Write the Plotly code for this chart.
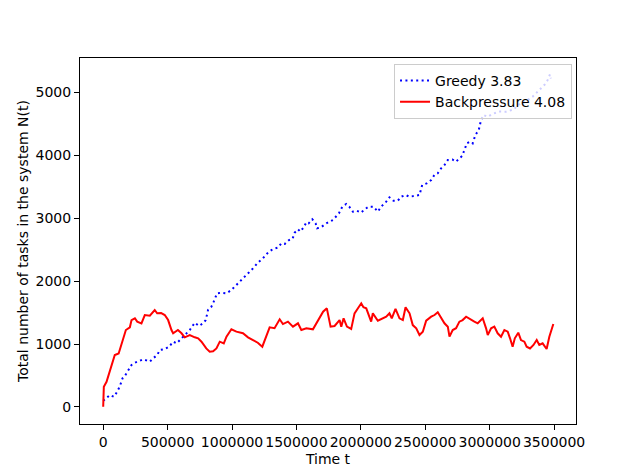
import plotly.graph_objects as go

# Backpressure (red, solid): time in millions, N(t)
bp_t = [0, 0.005, 0.026, 0.065, 0.09, 0.12, 0.143, 0.176, 0.207, 0.22, 0.246, 0.264, 0.297, 0.323,
        0.362, 0.40, 0.419, 0.45, 0.478, 0.504, 0.53, 0.543, 0.58, 0.608, 0.633, 0.672, 0.711, 0.737,
        0.763, 0.80, 0.827, 0.853, 0.879, 0.905, 0.936, 0.957, 0.995, 1.034, 1.085, 1.124, 1.163, 1.2,
        1.235, 1.26, 1.292, 1.33, 1.37, 1.395, 1.434, 1.473, 1.512, 1.538, 1.577, 1.628, 1.667, 1.707,
        1.736, 1.765, 1.796, 1.835, 1.848, 1.866, 1.892, 1.925, 1.951, 1.97, 2.003, 2.02, 2.042, 2.08,
        2.093, 2.132, 2.17, 2.197, 2.222, 2.24, 2.269, 2.3, 2.326, 2.347, 2.378, 2.403, 2.43, 2.455,
        2.481, 2.507, 2.546, 2.572, 2.597, 2.623, 2.649, 2.675, 2.688, 2.713, 2.739, 2.765, 2.79,
        2.817, 2.856, 2.881, 2.907, 2.946, 2.972, 2.985, 3.011, 3.036, 3.062, 3.088, 3.114, 3.14,
        3.158, 3.178, 3.195, 3.222, 3.243, 3.269, 3.287, 3.313, 3.34, 3.365, 3.385, 3.411, 3.442,
        3.463, 3.494]
bp_n = [5, 322, 400, 640, 825, 850, 1010, 1222, 1265, 1380, 1408, 1355, 1328, 1460,
        1450, 1540, 1487, 1490, 1460, 1380, 1222, 1170, 1222, 1170, 1106, 1143, 1106, 1090,
        1037, 930, 878, 883, 930, 1037, 1010, 1116, 1233, 1196, 1170, 1106, 1063, 1020,
        957, 1090, 1265, 1250, 1392, 1317, 1355, 1275, 1328, 1222, 1250, 1233, 1380, 1513,
        1566, 1275, 1286, 1380, 1275, 1408, 1275, 1238, 1487, 1540, 1646, 1583, 1566, 1355,
        1487, 1370, 1408, 1433, 1487, 1408, 1556, 1408, 1380, 1582, 1487, 1300, 1248, 1143,
        1195, 1370, 1433, 1460, 1503, 1408, 1328, 1275, 1116, 1222, 1250, 1355, 1380,
        1433, 1380, 1355, 1328, 1408, 1248, 1143, 1250, 1275, 1170, 1116, 1222, 1196,
        1090, 957, 1090, 1180, 1063, 1037, 957, 930, 985, 1063, 985, 1010, 920,
        1116, 1317]

# Greedy (blue, dotted)
gr_t = [0, 0.052, 0.083, 0.109, 0.13, 0.15, 0.168, 0.194, 0.22, 0.246, 0.28, 0.31, 0.336, 0.362,
        0.388, 0.419, 0.44, 0.478, 0.512, 0.543, 0.57, 0.608, 0.641, 0.672, 0.711, 0.744, 0.775,
        0.796, 0.814, 0.84, 0.858, 0.884, 0.918, 0.957, 0.995, 1.034, 1.085, 1.124, 1.163, 1.2,
        1.24, 1.279, 1.318, 1.357, 1.383, 1.41, 1.442, 1.47, 1.486, 1.512, 1.53, 1.556, 1.577,
        1.595, 1.623, 1.649, 1.66, 1.69, 1.732, 1.783, 1.83, 1.856, 1.887, 1.91, 1.938, 1.968,
        2.003, 2.029, 2.062, 2.098, 2.132, 2.158, 2.197, 2.222, 2.253, 2.287, 2.313, 2.347,
        2.378, 2.417, 2.455, 2.476, 2.511, 2.546, 2.571, 2.597, 2.623, 2.649, 2.675, 2.71,
        2.739, 2.765, 2.786, 2.804, 2.822, 2.847, 2.868, 2.889, 2.915, 2.933, 2.951, 2.985,
        3.02, 3.05, 3.08, 3.127, 3.166, 3.19, 3.217, 3.256, 3.295, 3.333, 3.372, 3.398, 3.424,
        3.45, 3.468, 3.475]
gr_n = [100, 190, 163, 243, 333, 455, 492, 587, 667, 703, 730, 757, 740, 720,
        773, 825, 905, 920, 957, 1037, 1010, 1090, 1170, 1222, 1338, 1286, 1328,
        1380, 1540, 1592, 1672, 1805, 1815, 1805, 1857, 1937, 2026, 2122, 2201, 2290,
        2360, 2450, 2508, 2530, 2598, 2590, 2650, 2670, 2767, 2820, 2785, 2852, 2932,
        2915, 2980, 2915, 2836, 2852, 2915, 2968, 3075, 3180, 3222, 3180, 3100, 3116,
        3085, 3138, 3180, 3180, 3100, 3180, 3259, 3328, 3275, 3275, 3338, 3365,
        3338, 3350, 3365, 3524, 3550, 3603, 3683, 3710, 3788, 3841, 3921, 3930,
        3894, 3947, 3984, 4079, 4185, 4212, 4185, 4317, 4397, 4556, 4635, 4608,
        4650, 4672, 4690, 4688, 4714, 4725, 4794, 4820, 4873, 4925, 5005, 5058, 5111,
        5190, 5280, 5215]

x_ticks = [0, 500000, 1000000, 1500000, 2000000, 2500000, 3000000, 3500000]
y_ticks = [0, 1000, 2000, 3000, 4000, 5000]

fig = go.Figure()
fig.add_trace(go.Scatter(x=[v * 1e6 for v in gr_t], y=gr_n, mode="lines", name="Greedy 3.83",
                         line=dict(color="#0000ff", width=2, dash="2px,3.4px")))
fig.add_trace(go.Scatter(x=[v * 1e6 for v in bp_t], y=bp_n, mode="lines", name="Backpressure 4.08",
                         line=dict(color="#ff0000", width=2)))

axis_common = dict(showline=True, linecolor="black", linewidth=1, mirror=True,
                   ticks="outside", ticklen=5, tickwidth=1, tickcolor="black",
                   showgrid=False, zeroline=False,
                   tickfont=dict(family="DejaVu Sans", size=14, color="black"))

fig.update_layout(
    width=640, height=476,
    margin=dict(l=80, r=64, t=58, b=52),
    paper_bgcolor="white", plot_bgcolor="white",
    font=dict(family="DejaVu Sans", size=14, color="black"),
    xaxis=dict(range=[-180000, 3670000], tickvals=x_ticks,
               ticktext=[str(v) for v in x_ticks],
               title=dict(text="Time t", font=dict(size=14), standoff=5), **axis_common),
    yaxis=dict(range=[-270, 5540], tickvals=y_ticks,
               ticktext=[str(v) for v in y_ticks],
               title=dict(text="Total number of tasks in the system N(t)", font=dict(size=14), standoff=3),
               **axis_common),
    legend=dict(x=0.992, y=0.984, xanchor="right", yanchor="top",
                bgcolor="rgba(255,255,255,0.8)", bordercolor="#cccccc", borderwidth=1,
                font=dict(family="DejaVu Sans", size=14, color="black"),
                tracegroupgap=0, itemwidth=30),
    showlegend=True,
)

fig.write_html("out.html")
